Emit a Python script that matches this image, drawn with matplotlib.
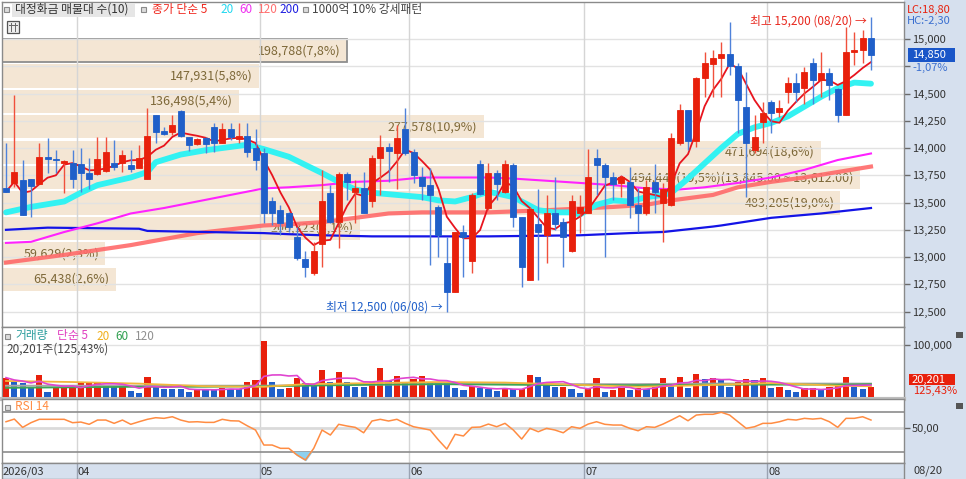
import numpy as np
import pandas as pd
import matplotlib
matplotlib.use("Agg")
import matplotlib.pyplot as plt
from matplotlib.patches import Rectangle
from matplotlib.lines import Line2D

plt.rcParams['font.family'] = ['Noto Sans CJK KR', 'DejaVu Sans']
plt.rcParams['axes.unicode_minus'] = False

# ── Data ──────────────────────────────────────────────────────────────────────
month_labels = ["2026/03", "04", "05", "06", "07", "08"]
month_start = [0, 9, 31, 49, 70, 92]
last_date = "08/20"

opens = [13630, 13680, 13710, 13720, 13670, 13920, 13900, 13860, 13860, 13850,
         13770, 13760, 13790, 13860, 13860, 13840, 13820, 13720, 14300, 14160,
         14150, 14340, 14100, 14040, 14090, 14190, 14050, 14170, 14080, 14110,
         14000, 13950, 13510, 13430, 13400, 13180, 12980, 12850, 13120, 13590,
         13320, 13760, 13600, 13630, 13510, 13910, 14010, 13950, 14170, 13960,
         13730, 13660, 13460, 12950, 12680, 13230, 12960, 13850, 13450, 13770,
         13600, 13840, 13370, 12790, 13300, 13200, 13400, 13320, 13060, 13400,
         13400, 13910, 13840, 13730, 13680, 13690, 13480, 13400, 13690, 13500,
         13480, 14050, 14350, 14060, 14640, 14770, 14830, 14860, 14750, 14380,
         13980, 14240, 14420, 14330, 14510, 14600, 14550, 14780, 14620, 14690,
         14540, 14300, 14880, 14900, 15010]
highs = [14050, 14490, 13890, 13720, 14050, 14090, 13980, 13890, 13980, 14000,
         13910, 14100, 14100, 14070, 13980, 13980, 14030, 14370, 14300, 14190,
         14300, 14350, 14100, 14090, 14100, 14230, 14230, 14230, 14230, 14230,
         14170, 14000, 13550, 13480, 13410, 13280, 13060, 13140, 13800, 13660,
         13780, 13780, 13710, 13780, 13940, 14120, 14050, 14210, 14370, 13990,
         13830, 13820, 13480, 13180, 13230, 13290, 13590, 13890, 13860, 13800,
         13890, 13860, 13370, 13460, 13620, 13570, 13730, 13360, 13570, 13570,
         13990, 13990, 13860, 13780, 13740, 13830, 13630, 13710, 13850, 13680,
         14140, 14400, 14350, 14650, 14880, 14900, 14970, 15160, 14780, 14700,
         14300, 14420, 14440, 14440, 14650, 14690, 14740, 14830, 14880, 14730,
         14550, 15110, 15060, 15080, 15200]
lows = [13600, 13640, 13390, 13370, 13670, 13770, 13770, 13590, 13630, 13600,
        13620, 13750, 13780, 13800, 13780, 13780, 13820, 13720, 14050, 14120,
        14120, 14100, 13970, 14030, 13950, 13960, 14050, 14070, 14050, 13920,
        13800, 13310, 13290, 13200, 13230, 12970, 12820, 12840, 12910, 13310,
        13080, 13520, 13310, 13400, 13460, 13570, 13690, 13620, 13940, 13680,
        13520, 12930, 13000, 12500, 12680, 12820, 12850, 13570, 13430, 13520,
        13590, 13280, 12730, 12790, 12790, 12950, 13250, 12910, 13050, 13220,
        13400, 13570, 13000, 13520, 13550, 13360, 13230, 13390, 13400, 13140,
        13470, 14030, 13980, 14010, 14470, 14470, 14470, 14670, 14140, 13550,
        13950, 14050, 14140, 14280, 14410, 14420, 14400, 14400, 14470, 14440,
        14240, 14300, 14760, 14780, 14720]
closes = [13600, 13780, 13390, 13650, 13920, 13900, 13890, 13880, 13720, 13770,
          13720, 13900, 13960, 13830, 13940, 13810, 13910, 14110, 14150, 14130,
          14210, 14110, 14030, 14080, 14040, 14050, 14170, 14100, 14110, 13960,
          13890, 13400, 13400, 13310, 13280, 12990, 12910, 13060, 13510, 13320,
          13760, 13690, 13630, 13400, 13910, 14010, 13970, 14090, 13950, 13750,
          13650, 13570, 13200, 12680, 13230, 13180, 13570, 13580, 13770, 13670,
          13850, 13370, 12910, 13440, 13230, 13400, 13300, 13180, 13510, 13460,
          13730, 13840, 13730, 13670, 13730, 13480, 13400, 13640, 13600, 13620,
          14090, 14350, 14060, 14640, 14780, 14830, 14860, 14750, 14440, 14050,
          14100, 14320, 14320, 14370, 14600, 14510, 14700, 14620, 14690, 14580,
          14300, 14880, 14900, 15010, 14850]
volumes = [37300, 28500, 26600, 17100, 42400, 10800, 17100, 17500, 20200, 26600,
           28500, 29700, 23400, 20200, 22100, 12000, 8900, 38000, 20200, 15800,
           15600, 15400, 10800, 15800, 15200, 13900, 18300, 15200, 15000, 28500,
           32900, 106900, 28500, 15800, 18300, 37300, 27800, 23400, 51900, 29700,
           47400, 29700, 20200, 20000, 28500, 55000, 31000, 40500, 28500, 34800,
           40500, 29700, 26600, 26400, 17100, 13900, 21500, 17100, 15800, 12000,
           17100, 15200, 15800, 42400, 39200, 28500, 19000, 19200, 15800, 8900,
           18300, 37300, 10800, 13900, 18300, 13900, 17100, 15200, 23400, 37300,
           21500, 39200, 18300, 44300, 34800, 37300, 32900, 20200, 29700, 34800,
           32900, 37300, 17100, 19000, 13900, 10800, 17100, 18300, 13900, 19000,
           21500, 39200, 19000, 16100, 20201]
rsi14 = [57.6, 60.9, 50.6, 56.4, 60.6, 60.6, 60.6, 60.6, 56.4, 57.2,
         54.4, 59.7, 59.7, 55.6, 59.7, 54.4, 57.6, 60.6, 62.6, 61.8,
         63.8, 59.7, 57.2, 57.6, 56.8, 56.8, 60.6, 58.8, 58.5, 52.6,
         47.3, 28.7, 28.7, 24.6, 24.6, 16.3, 10.1, 24.6, 47.3, 41.1,
         54.4, 52.3, 50.6, 43.9, 58.5, 60.6, 58.5, 60.6, 55.6, 51.4,
         49.4, 47.3, 34.9, 23.7, 42.0, 39.9, 50.6, 51.0, 54.7, 51.4,
         55.6, 47.3, 36.1, 49.4, 45.2, 49.4, 47.3, 43.9, 51.4, 49.4,
         54.7, 57.6, 54.4, 53.5, 53.5, 49.4, 46.4, 51.4, 50.6, 54.7,
         59.7, 65.0, 58.8, 65.9, 66.8, 66.8, 69.3, 65.9, 57.6, 49.4,
         51.4, 55.6, 55.6, 57.6, 60.6, 59.7, 61.8, 60.9, 61.8, 57.6,
         50.6, 61.8, 61.8, 63.8, 59.7]

# moving averages (longer windows need history before the view)
ma20_idx = [0, 3, 7, 9, 11, 15, 17, 18, 21, 24, 27, 29, 31, 34, 38, 40, 42, 44, 47, 50,
            52, 54, 56, 58, 61, 64, 66, 68, 69, 71, 73, 75, 77, 79, 80, 82, 84, 86, 88, 90,
            92, 94, 96, 98, 100, 102, 104]
ma20 = [13410, 13460, 13510, 13590, 13660, 13730, 13780, 13870, 13940, 13980,
        14010, 14030, 13990, 13920, 13770, 13690, 13620, 13590, 13570, 13550,
        13520, 13510, 13550, 13600, 13550, 13430, 13410, 13410, 13390, 13480,
        13520, 13510, 13550, 13570, 13590, 13720, 13860, 14000, 14130, 14190,
        14230, 14290, 14380, 14470, 14550, 14600, 14590]
ma60_idx = [0, 3, 7, 11, 15, 19, 23, 27, 31, 34, 38, 42, 46, 50, 54, 58, 61, 63, 69, 73,
            77, 81, 84, 88, 92, 96, 100, 104]
ma60 = [13130, 13140, 13230, 13310, 13400, 13450, 13510, 13570, 13630, 13640,
        13660, 13690, 13700, 13730, 13730, 13730, 13720, 13710, 13680, 13660,
        13630, 13620, 13640, 13680, 13730, 13800, 13890, 13950]
ma120_idx = [0, 7, 15, 23, 31, 34, 38, 42, 46, 50, 54, 58, 65, 73, 77, 80, 85, 88, 92, 96,
             100, 104]
ma120 = [12950, 13020, 13110, 13220, 13290, 13300, 13320, 13360, 13400, 13410,
         13410, 13410, 13430, 13460, 13480, 13520, 13570, 13640, 13690, 13730,
         13780, 13830]
ma200_idx = [0, 5, 16, 17, 24, 31, 34, 38, 44, 52, 58, 69, 75, 79, 85, 86, 92, 98, 104]
ma200 = [13250, 13270, 13260, 13240, 13230, 13220, 13210, 13200, 13190, 13190,
         13190, 13200, 13220, 13230, 13280, 13290, 13360, 13400, 13450]

vma_idx = [0, 8, 16, 24, 31, 36, 44, 52, 60, 68, 76, 84, 92, 100, 104]
vma20 = [31000, 29000, 26000, 21000, 20000, 25000, 27000, 29000, 28000, 24000,
         20000, 23000, 27000, 22000, 21000]
vma60 = [18000, 19000, 20000, 20000, 21000, 22000, 24000, 25000, 24000, 23000,
         23000, 24000, 24000, 24000, 25000]
vma120 = [22000, 22000, 22000, 22000, 22000, 23000, 24000, 25000, 25000, 25000,
          25000, 26000, 26000, 26000, 26000]

# volume-at-price bands, top band first
band_vol = [198788, 147931, 136498, 277578, 471694, 494449, 483205, 206323, 59629, 65438]
band_pct = ["7,8%", "5,8%", "5,4%", "10,9%", "18,6%", "19,5%", "19,0%", "8,1%", "2,3%", "2,6%"]
band_extra = ["", "", "", "", "", "(13,845.00 ~ 13,612.00)", "", "", "", ""]

# ── Style ─────────────────────────────────────────────────────────────────────
RED, BLUE = "#E8200C", "#1F5FC9"
RED_W, BLUE_W = "#F0503C", "#4F82DA"
GUTTER = "#D6E0EE"
SPINE = "#8A8A8A"
GRID = "#E2E2E2"
W, H = 966, 479

fig = plt.figure(figsize=(W / 100, H / 100), dpi=100)
fig.add_artist(Rectangle((904 / W, 0), (W - 904) / W, 1, transform=fig.transFigure,
                         facecolor=GUTTER, edgecolor="none", zorder=-5))


def box(top, bottom, left=2, right=904):
    return [left / W, 1 - bottom / H, (right - left) / W, (bottom - top) / H]


def ptext(x, y, s, **kw):
    kw.setdefault("va", "center"); kw.setdefault("ha", "left"); kw.setdefault("fontsize", 8.5)
    fig.text(x / W, 1 - y / H, s, **kw)


def prect(x0, y0, x1, y1, **kw):
    fig.add_artist(Rectangle((x0 / W, 1 - y1 / H), (x1 - x0) / W, (y1 - y0) / H,
                             transform=fig.transFigure, **kw))


n = len(closes)
x = np.arange(n)
XLIM = (-0.481, 107.97)
PLIM = (12359, 15339)

o, h, l, c = map(np.array, (opens, highs, lows, closes))
up = c >= o

axb = fig.add_axes(box(2, 327))
ax = fig.add_axes(box(2, 327))
axv = fig.add_axes(box(327, 399))
axr = fig.add_axes(box(399, 463))
axd = fig.add_axes(box(463, 479))

for a in (ax, axv, axr, axd):
    a.set_xlim(*XLIM)
    a.set_xticks([])
    for s in a.spines.values():
        s.set_color(SPINE); s.set_linewidth(1)
ax.patch.set_alpha(0)
axd.set_facecolor(GUTTER)

# ── Volume-at-price bands (behind everything) ────────────────────────────────
lo, hi = min(closes), max(closes)
step = (hi - lo) / len(band_vol)
xmax = max(band_vol) * 902 / 858
axb.set_xlim(0, xmax)
axb.set_ylim(*PLIM)
axb.axis("off")
for k, v in enumerate(band_vol):
    yc = hi - (k + 0.5) * step
    axb.barh(yc, v, height=step * 0.91, left=0, color="#F4E6D4",
             edgecolor="#8E8E8E" if k == 0 else "none", linewidth=1.3 if k == 0 else 0)
    axb.text(v - xmax * 0.007, yc, f"{v:,}({band_pct[k]}){band_extra[k]}", ha="right",
             va="center", fontsize=9, color="#7D6838")

# ── Price panel ───────────────────────────────────────────────────────────────
ax.set_ylim(*PLIM)
price_ticks = np.arange(12500, 15001, 250)
for p in price_ticks:
    ax.axhline(p, color=GRID, lw=1, zorder=1)
for m in month_start[1:]:
    for a in (ax, axv, axr):
        a.axvline(m - 0.5, color="#D5D5D5", lw=1, zorder=1)

ma5 = pd.Series(closes).rolling(5, min_periods=1).mean()
ax.plot(ma120_idx, ma120, color="#FF6A6A", lw=3, alpha=0.9, zorder=2)
ax.plot(ma200_idx, ma200, color="#1414E6", lw=1.6, zorder=2)
ax.plot(ma60_idx, ma60, color="#FF22FF", lw=1.5, zorder=2)
ax.plot(ma20_idx, ma20, color="#33F2F2", lw=4.2, solid_capstyle="round", zorder=2.5)
ax.plot(x, ma5, color="#E8141E", lw=1.3, zorder=3)

ax.vlines(x, l, h, colors=np.where(up, RED_W, BLUE_W), lw=1, zorder=4)
ax.bar(x, np.abs(c - o), bottom=np.minimum(o, c), width=0.72,
       color=np.where(up, RED, BLUE), edgecolor=np.where(up, RED, BLUE), lw=0.6, zorder=5)

imax, imin = int(np.argmax(h)), int(np.argmin(l))
ax.text(imax - 0.5, h[imax] - 40, f"최고 {h[imax]:,} ({last_date}) →", ha="right",
        va="center", fontsize=8.5, color="#E8281E", zorder=6)
ax.text(imin - 0.5, l[imin] + 45, f"최저 {l[imin]:,} (06/08) →", ha="right",
        va="center", fontsize=8.5, color=BLUE, zorder=6)

ax.yaxis.tick_right()
ax.set_yticks(price_ticks)
ax.set_yticklabels(["" if p == 14750 else f"{p:,}" for p in price_ticks])

# ── Volume panel ──────────────────────────────────────────────────────────────
vol = np.array(volumes)
vup = np.r_[True, vol[1:] > vol[:-1]]
axv.set_ylim(-3200, 133400)
axv.axhline(100000, color=GRID, lw=1, zorder=1)
axv.bar(x, vol, width=0.75, color=np.where(vup, RED, BLUE), zorder=3)
vma5 = pd.Series(volumes).rolling(5, min_periods=1).mean()
axv.plot(vma_idx, vma120, color="#A8A8A8", lw=1.4, zorder=4)
axv.plot(vma_idx, vma60, color="#3AA655", lw=1.3, zorder=4)
axv.plot(vma_idx, vma20, color="#F2B63C", lw=1.3, zorder=4)
axv.plot(x, vma5, color="#E045D0", lw=1.2, zorder=4)
axv.spines["bottom"].set_color("#BDBDBD"); axv.spines["bottom"].set_linewidth(3)
axv.yaxis.tick_right()
axv.set_yticks([100000])
axv.set_yticklabels(["100,000"])

# ── RSI panel ─────────────────────────────────────────────────────────────────
rsi = np.array(rsi14)
axr.set_ylim(6.4, 85.8)
axr.axhline(50, color="#DADADA", lw=2, zorder=1)
axr.axhline(70, color="#8C8C8C", lw=1.2, zorder=1)
axr.axhline(20, color="#8C8C8C", lw=1.2, zorder=1)
axr.fill_between(x, rsi, 20, where=rsi < 20, interpolate=True, color="#8ED0EE", zorder=2)
axr.plot(x, rsi, color="#FF8C42", lw=1.1, zorder=3)
axr.yaxis.tick_right()
axr.set_yticks([50])
axr.set_yticklabels(["50,00"])

for a in (ax, axv, axr):
    a.tick_params(axis="y", direction="out", length=4, width=1, color="#6A6A6A",
                  labelsize=8, labelcolor="#333333", pad=1.5)

# ── Date strip ────────────────────────────────────────────────────────────────
axd.set_ylim(0, 1)
axd.set_yticks([])
for m, lab in zip(month_start, month_labels):
    xpos = XLIM[0] + 0.1 if m == 0 else m - 0.5 + 0.15
    if m:
        axd.axvline(m - 0.5, color="#9AA3B3", lw=1)
    axd.text(xpos, 0.45, lab, ha="left", va="center", fontsize=8, color="#333333")
ptext(913, 471, last_date, fontsize=8, color="#333333")

# ── Gutter labels ─────────────────────────────────────────────────────────────
ptext(907, 10, "LC:18,80", color=RED, fontsize=8)
ptext(907, 21, "HC:-2,30", color="#3A6FD0", fontsize=8)
prect(908, 48, 955, 62, facecolor="#1A56C8", edgecolor="none")
ptext(912, 55, f"{closes[-1]:,}", color="white", fontsize=8)
ptext(912, 67.5, "-1,07%", color="#3A6FD0", fontsize=8)
prect(909, 374, 955, 385, facecolor=RED, edgecolor="none")
ptext(912, 379.5, f"{volumes[-1]:,}", color="white", fontsize=8)
ptext(913, 391, "125,43%", color=RED, fontsize=8)
prect(956, 332, 963, 338, facecolor="#555555", edgecolor="none")
prect(956, 403, 963, 409, facecolor="#555555", edgecolor="none")

# ── Legends ───────────────────────────────────────────────────────────────────
def bullet(xc, yc):
    prect(xc - 2.5, yc - 2.5, xc + 2.5, yc + 2.5, facecolor="#DCDCDC", edgecolor="#8A8A8A", lw=0.8)

bullet(6, 9.5)
prect(12, 3, 135, 17, facecolor="#E6E6E6", edgecolor="none")
ptext(15, 9.5, "대정화금 매물대 수(10)", color="#333333")
bullet(143, 9.5)
ptext(152, 9.5, "종가 단순 5", color="#F0281E")
ptext(220, 9.5, "20", color="#22D8F0")
ptext(239, 9.5, "60", color="#F030F0")
ptext(258, 9.5, "120", color="#FF7070")
ptext(279, 9.5, "200", color="#2020E0")
bullet(305, 9.5)
ptext(312, 9.5, "1000억 10% 강세패턴", color="#444444")

prect(7, 21, 19, 33, facecolor="#EEEEEE", edgecolor="#555555", lw=0.9)
for gx in (11, 15):
    fig.add_artist(Line2D([gx / W, gx / W], [1 - 23 / H, 1 - 31 / H], transform=fig.transFigure,
                          color="#666666", lw=0.7))
fig.add_artist(Line2D([9 / W, 17 / W], [1 - 25 / H, 1 - 25 / H], transform=fig.transFigure,
                      color="#666666", lw=0.7))

bullet(7, 336)
ptext(15, 336, "거래량", color="#2A9D9D")
ptext(57, 336, "단순 5", color="#E040C0")
ptext(96, 336, "20", color="#F0B020")
ptext(115, 336, "60", color="#30A050")
ptext(135, 336, "120", color="#909090")
ptext(6, 349, f"{volumes[-1]:,}주(125,43%)", color="#444444")

bullet(7, 407)
ptext(15, 407, "RSI 14", color="#FF8C42")

fig.savefig("out.png", dpi=100)
